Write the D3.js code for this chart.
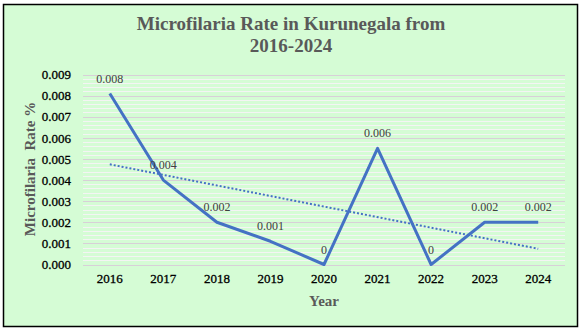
<!DOCTYPE html>
<html><head><meta charset="utf-8">
<script src="https://cdn.jsdelivr.net/npm/d3@7"></script>
<style>body{margin:0;background:#fff}svg{display:block}svg text{font-family:'Liberation Serif','Times New Roman',serif}</style>
</head><body><svg id="c" width="584" height="333"></svg>
<script>
const years = ["2016","2017","2018","2019","2020","2021","2022","2023","2024"];
const rates = [0.0081,0.0040,0.0020,0.0011,0.0000,0.0055,0.0000,0.0020,0.0020];
const labels = ["0.008","0.004","0.002","0.001","0","0.006","0","0.002","0.002"];
const yTicks = [0,0.001,0.002,0.003,0.004,0.005,0.006,0.007,0.008,0.009];
const titleLines = ["Microfilaria Rate in Kurunegala from","2016-2024"];

const svg = d3.select("#c");
const serif = "'Liberation Serif','Times New Roman',serif";
svg.append("rect").attr("x",3.5).attr("y",4.5).attr("width",574).attr("height",322)
  .attr("fill","#d5fcd5").attr("stroke","#000").attr("stroke-width",1.5);

const x = d3.scaleBand().domain(years).range([83,565]);
const y = d3.scaleLinear().domain([0,0.009]).range([264.5,74.5]);

// minor grid
const minor = d3.range(0,0.009+1e-9,0.0002).filter((d,i)=>i%5!==0);
svg.append("g").selectAll("line").data(minor).join("line")
  .attr("x1",83).attr("x2",565).attr("y1",d=>Math.round(y(d))+0.5).attr("y2",d=>Math.round(y(d))+0.5)
  .attr("stroke","#f4f4f4").attr("stroke-width",1);
// major grid
svg.append("g").selectAll("line").data(yTicks).join("line")
  .attr("x1",83).attr("x2",565).attr("y1",d=>Math.round(y(d))+0.5).attr("y2",d=>Math.round(y(d))+0.5)
  .attr("stroke","#d8d0d8").attr("stroke-width",1);

// y axis labels
const ya = d3.axisLeft(y).tickValues(yTicks).tickFormat(d3.format(".3f")).tickSize(0).tickPadding(12);
const yg = svg.append("g").attr("transform","translate(83,0)").call(ya);
yg.attr("font-family",null);
yg.select(".domain").remove();
yg.selectAll("text").style("font-family",serif).style("font-size","13px").style("font-weight","normal")
  .attr("fill","#000").attr("stroke","#000").attr("stroke-width",0.3);

const xa = d3.axisBottom(x).tickSize(0).tickPadding(9);
const xg = svg.append("g").attr("transform","translate(0,264.5)").call(xa);
xg.attr("font-family",null);
xg.select(".domain").remove();
xg.selectAll("text").style("font-family",serif).style("font-size","13px").style("font-weight","normal")
  .attr("fill","#000").attr("stroke","#000").attr("stroke-width",0.3);

const cx = d => x(d)+x.bandwidth()/2;

// trendline (linear regression)
const n = rates.length, xs = d3.range(1,n+1);
const mx = d3.mean(xs), my = d3.mean(rates);
const slope = d3.sum(xs,(v,i)=>(v-mx)*(rates[i]-my))/d3.sum(xs,v=>(v-mx)**2);
const b = my - slope*mx;
svg.append("line")
  .attr("x1",cx(years[0])).attr("y1",y(b+slope*1))
  .attr("x2",cx(years[n-1])).attr("y2",y(b+slope*n))
  .attr("stroke","#4472c4").attr("stroke-width",2).attr("stroke-dasharray","2,2");

// main line
svg.append("path").datum(rates)
  .attr("d",d3.line().x((d,i)=>cx(years[i])).y(d=>y(d)))
  .attr("fill","none").attr("stroke","#4472c4").attr("stroke-width",3).attr("stroke-linejoin","round");

// data labels
svg.append("g").selectAll("text").data(rates).join("text")
  .attr("x",(d,i)=>cx(years[i])).attr("y",d=>y(d)-11)
  .attr("text-anchor","middle").style("font-family",serif).style("font-size","12px")
  .attr("fill","#404040").text((d,i)=>labels[i]);

// title
svg.append("text").attr("x",291).attr("text-anchor","middle")
  .style("font-family",serif).style("font-size","19px").style("font-weight","bold").attr("fill","#595959")
  .selectAll("tspan").data(titleLines).join("tspan")
  .attr("x",291).attr("y",(d,i)=>30+i*22).text(d=>d);

// axis titles
svg.append("text").attr("x",324).attr("y",306).attr("text-anchor","middle")
  .style("font-family",serif).style("font-size","15px").style("font-weight","bold").attr("fill","#595959").text("Year");
svg.append("text").attr("transform","translate(35,169) rotate(-90)").attr("text-anchor","middle")
  .style("font-family",serif).style("font-size","15px").style("font-weight","bold").attr("fill","#595959")
  .style("white-space","pre").text("Microfilaria  Rate %");
</script></body></html>
